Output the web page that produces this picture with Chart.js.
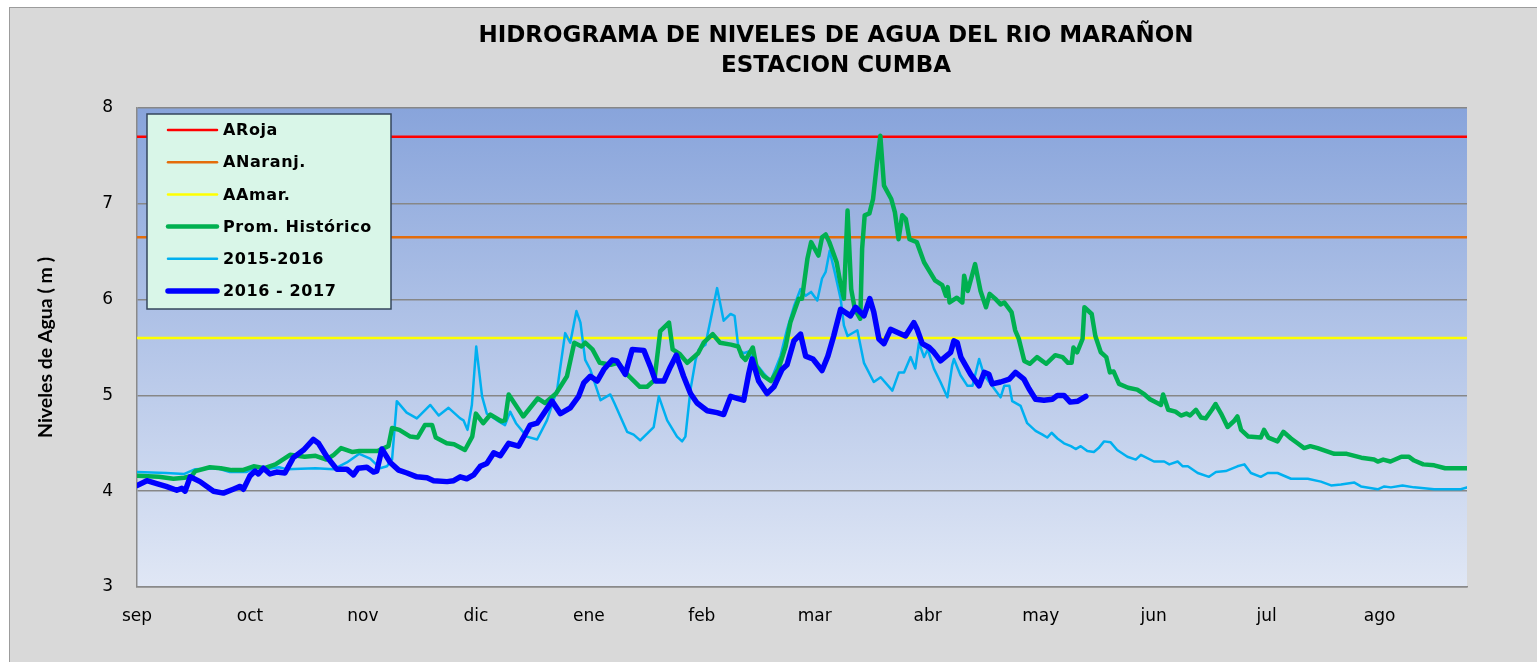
<!DOCTYPE html>
<html lang="es">
<head>
<meta charset="utf-8">
<title>Hidrograma Rio Marañon - Estacion Cumba</title>
<script src="https://cdn.jsdelivr.net/npm/chart.js@4.4.1/dist/chart.umd.min.js"></script>
<style>
  html, body { margin: 0; padding: 0; background: #ffffff; }
  canvas { display: block; }
</style>
</head>
<body>
<canvas id="hidroChart" width="1537" height="662"></canvas>
<script>
// eje x en dias desde el 1 de setiembre, etiqueta cada 31 dias (como el eje de fechas de Excel)
const meses = ['sep', 'oct', 'nov', 'dic', 'ene', 'feb', 'mar', 'abr', 'may', 'jun', 'jul', 'ago'];
const pasoDias = 31;
const diaMin = 0;
const diaMax = 365;
const nivelMin = 3;
const nivelMax = 8;

// umbrales de alerta (m)
const alertaRoja = 7.7;
const alertaNaranja = 6.65;
const alertaAmarilla = 5.6;

// Prom. Historico
const promDias = [0, 6, 10, 13, 15, 16, 20, 23, 26, 29, 32, 35, 38, 42, 46, 49, 52, 54, 56, 59,
  61, 66, 69, 70, 72, 75, 77, 79, 81, 82, 85, 87, 90, 92, 93, 95, 97, 100, 101, 102,
  106, 110, 112, 115, 118, 120, 122, 123, 125, 127, 130, 132, 135, 138, 140, 142, 143.6, 146, 147, 149,
  151, 154, 155.5, 158, 160, 163, 165, 166, 167, 169, 170, 172, 174, 176, 178, 179.3, 181.6, 182.5, 184, 185,
  187, 188, 189, 190, 192, 193, 194, 195, 196, 197, 198.5, 199, 199.7, 201, 202, 203, 204, 205, 207, 208,
  209, 210, 211, 212, 214, 216, 219, 221, 222, 222.5, 223, 225, 226.5, 227, 228, 230, 231.5, 233, 234, 235.5,
  237, 238, 240, 241, 242, 243.5, 245, 247, 249.5, 252, 254, 255.5, 256.5, 257, 258, 259.5, 260, 262, 263, 264.5,
  266, 267, 268, 269.5, 272, 274.5, 276.5, 278, 280, 281, 281.6, 283, 285, 286.5, 288, 289, 290.6, 292, 293.3, 295,
  296, 297.5, 299.3, 301, 302, 303, 305, 308.4, 309.3, 310.5, 313, 314.6, 316.7, 318.5, 320.3, 322, 324, 328.6, 332, 336,
  339.5, 340.5, 342, 344, 347, 349, 350.5, 353, 356, 359, 365];
const promNivel = [4.16, 4.15, 4.13, 4.14, 4.16, 4.21, 4.25, 4.24, 4.22, 4.22, 4.26, 4.24, 4.28, 4.38, 4.36, 4.37, 4.33, 4.38, 4.45, 4.41,
  4.42, 4.42, 4.47, 4.66, 4.64, 4.57, 4.56, 4.69, 4.69, 4.56, 4.50, 4.49, 4.43, 4.57, 4.81, 4.71, 4.80, 4.73, 4.74, 5.01,
  4.78, 4.97, 4.92, 5.02, 5.20, 5.55, 5.51, 5.55, 5.48, 5.34, 5.32, 5.34, 5.20, 5.09, 5.09, 5.16, 5.67, 5.76, 5.48, 5.43,
  5.34, 5.44, 5.55, 5.64, 5.55, 5.53, 5.51, 5.41, 5.37, 5.50, 5.30, 5.20, 5.15, 5.27, 5.51, 5.76, 6.01, 6.01, 6.43, 6.60,
  6.46, 6.65, 6.68, 6.60, 6.39, 6.18, 6.01, 6.93, 6.11, 5.90, 5.80, 6.53, 6.88, 6.90, 7.05, 7.40, 7.71, 7.19, 7.05, 6.91,
  6.63, 6.88, 6.84, 6.63, 6.60, 6.39, 6.20, 6.15, 6.04, 6.13, 5.97, 6.02, 5.97, 6.25, 6.09, 6.37, 6.09, 5.92, 6.06, 6.01,
  5.95, 5.97, 5.87, 5.68, 5.59, 5.36, 5.33, 5.40, 5.33, 5.42, 5.40, 5.34, 5.34, 5.50, 5.45, 5.59, 5.92, 5.85, 5.62, 5.45,
  5.40, 5.24, 5.25, 5.12, 5.08, 5.06, 5.01, 4.96, 4.92, 4.90, 5.01, 4.85, 4.83, 4.79, 4.81, 4.79, 4.85, 4.77, 4.76, 4.85,
  4.91, 4.81, 4.67, 4.73, 4.78, 4.64, 4.57, 4.56, 4.64, 4.56, 4.52, 4.62, 4.55, 4.50, 4.45, 4.47, 4.45, 4.39, 4.39, 4.35,
  4.33, 4.31, 4.33, 4.31, 4.36, 4.36, 4.32, 4.28, 4.27, 4.24, 4.24];

// 2015-2016
const anio1516Dias = [0, 8, 13, 16, 22, 25.5, 30, 33, 35, 39, 41, 49, 54, 57.6, 61, 64, 66.7, 68.6, 70, 71.3,
  74, 76.8, 80.5, 82.8, 85.5, 88.7, 89.6, 90.7, 91.9, 93.1, 94.7, 96, 98.8, 101, 102.4, 104, 107, 109.8, 112.5, 115.3,
  117.5, 118.9, 120.6, 121.7, 123, 124.4, 127.2, 129.9, 131, 133.1, 134.5, 136.3, 138.1, 140, 141.8, 143.2, 145.5, 148.2, 149.6, 150.5,
  151.9, 153.3, 154.2, 156, 157.8, 159.2, 161, 162.9, 164, 165.1, 166.5, 167.9, 169.3, 172, 173.9, 176.6, 178.4, 180.3, 182.1, 183.5,
  185, 186.7, 188, 189, 190.1, 191.7, 193.1, 194, 195, 197.7, 199.5, 202.2, 204.1, 207.3, 209.1, 210.5, 212.3, 213.6, 214.6, 216,
  217, 218.7, 220.5, 222.4, 223.7, 224.2, 226, 227.9, 229.3, 231.1, 232.5, 234.3, 237, 238, 239.4, 240.2, 242.5, 244.3, 246.6, 248.5,
  249.8, 251, 252.6, 254.4, 256.3, 257.6, 259, 260.8, 262.6, 263.9, 265.4, 267.2, 269, 271.8, 274.1, 275.5, 279.1, 281.9, 283.3, 285.6,
  287, 288.4, 291.1, 294.2, 296.1, 298.8, 302, 303.9, 305.7, 308.4, 310.3, 313, 316.7, 319.5, 321.3, 324.9, 327.7, 330.4, 334.1, 335.9,
  340.5, 342.3, 344.1, 347.3, 350.5, 356, 363.3, 365];
const anio1516Nivel = [4.20, 4.19, 4.18, 4.23, 4.24, 4.20, 4.20, 4.26, 4.23, 4.25, 4.23, 4.24, 4.23, 4.30, 4.39, 4.34, 4.24, 4.26, 4.33, 4.94,
  4.82, 4.76, 4.90, 4.79, 4.87, 4.76, 4.74, 4.64, 4.90, 5.51, 4.99, 4.81, 4.74, 4.69, 4.83, 4.71, 4.57, 4.54, 4.74, 5.06,
  5.65, 5.55, 5.88, 5.76, 5.37, 5.27, 4.95, 5.01, 4.92, 4.74, 4.62, 4.59, 4.53, 4.60, 4.67, 4.99, 4.74, 4.57, 4.52, 4.57,
  5.06, 5.37, 5.48, 5.53, 5.86, 6.12, 5.78, 5.85, 5.83, 5.48, 5.44, 5.46, 5.36, 5.23, 5.15, 5.41, 5.69, 5.93, 6.11, 6.04,
  6.08, 5.99, 6.22, 6.29, 6.51, 6.25, 6.01, 5.73, 5.62, 5.68, 5.34, 5.14, 5.19, 5.05, 5.24, 5.24, 5.40, 5.28, 5.55, 5.40,
  5.48, 5.28, 5.14, 4.98, 5.31, 5.38, 5.21, 5.10, 5.10, 5.38, 5.21, 5.12, 4.98, 5.10, 5.10, 4.94, 4.89, 4.71, 4.63, 4.59,
  4.56, 4.61, 4.55, 4.50, 4.47, 4.44, 4.47, 4.42, 4.41, 4.45, 4.52, 4.51, 4.43, 4.36, 4.33, 4.38, 4.31, 4.31, 4.28, 4.31,
  4.26, 4.26, 4.19, 4.15, 4.20, 4.21, 4.26, 4.28, 4.19, 4.15, 4.19, 4.19, 4.13, 4.13, 4.13, 4.10, 4.06, 4.07, 4.09, 4.05,
  4.02, 4.05, 4.04, 4.06, 4.04, 4.02, 4.02, 4.04];

// 2016 - 2017 (hasta mediados de mayo)
const anio1617Dias = [0, 2.7, 5.4, 8, 10.9, 12.3, 13.2, 14.6, 17.3, 21, 23.7, 26.4, 28.3, 29.2, 31, 32.4, 33.3, 34.7, 36.5, 38.3,
  40.6, 42.9, 45.7, 48.4, 49.8, 52.1, 54.8, 57.6, 59.4, 60.7, 63.1, 64.9, 65.8, 67.2, 69.5, 71.8, 74.1, 76.8, 79.6, 81.4,
  85.1, 86.9, 88.7, 90.5, 92.4, 94.2, 96, 97.9, 99.7, 102, 104.7, 106.6, 107.9, 109.8, 111.6, 113.9, 116.2, 118.9, 121.2, 122.6,
  124.4, 126.3, 128.1, 130.4, 131.7, 134, 135.9, 139.1, 140.9, 142.3, 144.6, 146.4, 148, 150, 151.9, 153.7, 156.5, 159.2, 161, 162.9,
  164.7, 166.5, 167.9, 168.8, 170.6, 172.9, 174.8, 177, 178.4, 180.3, 182.1, 183.5, 185.5, 188, 189.6, 191.2, 193.1, 195.8, 197.2, 199.5,
  201.1, 202.2, 203.6, 205, 206.8, 208.6, 210.9, 213.2, 214.1, 215.5, 217.4, 218.7, 220.5, 223.3, 224.2, 225.1, 226.1, 228.8, 231.1, 232.5,
  233.8, 234.7, 237, 239.4, 241.1, 243.4, 244.8, 246.6, 248.9, 251.2, 252.6, 254.4, 256.1, 258.2, 260.4];
const anio1617Nivel = [4.06, 4.11, 4.08, 4.05, 4.01, 4.03, 4.00, 4.15, 4.10, 4.00, 3.98, 4.02, 4.05, 4.02, 4.16, 4.21, 4.18, 4.24, 4.18, 4.20,
  4.19, 4.35, 4.43, 4.54, 4.50, 4.36, 4.23, 4.23, 4.17, 4.24, 4.25, 4.20, 4.21, 4.44, 4.30, 4.22, 4.19, 4.15, 4.14, 4.11,
  4.10, 4.11, 4.15, 4.13, 4.17, 4.26, 4.29, 4.40, 4.37, 4.50, 4.47, 4.60, 4.69, 4.71, 4.81, 4.94, 4.81, 4.87, 4.99, 5.13,
  5.20, 5.15, 5.27, 5.37, 5.36, 5.22, 5.48, 5.47, 5.30, 5.15, 5.15, 5.30, 5.42, 5.20, 5.02, 4.92, 4.84, 4.82, 4.80, 4.99,
  4.97, 4.95, 5.23, 5.38, 5.15, 5.02, 5.09, 5.27, 5.32, 5.57, 5.64, 5.41, 5.38, 5.26, 5.41, 5.62, 5.90, 5.83, 5.92, 5.83,
  6.01, 5.87, 5.59, 5.54, 5.69, 5.66, 5.62, 5.76, 5.69, 5.54, 5.50, 5.45, 5.36, 5.45, 5.57, 5.55, 5.40, 5.22, 5.10, 5.24,
  5.22, 5.12, 5.14, 5.17, 5.24, 5.17, 5.07, 4.96, 4.95, 4.96, 5.00, 5.00, 4.93, 4.94, 4.99];

const toPoints = (dias, niveles) => dias.map((d, i) => ({ x: d, y: niveles[i] }));
const linea = (nivel) => [{ x: diaMin, y: nivel }, { x: diaMax, y: nivel }];

const fondoPlugin = {
  id: 'fondo',
  beforeDraw(chart) {
    const { ctx, chartArea: a, width, height } = chart;
    ctx.save();
    ctx.fillStyle = '#ffffff';
    ctx.fillRect(0, 0, width, height);
    ctx.fillStyle = '#d9d9d9';
    ctx.fillRect(9, 7, width - 9, height - 7);
    ctx.strokeStyle = '#9c9c9c';
    ctx.lineWidth = 1;
    ctx.strokeRect(9.5, 7.5, width, height);
    const grad = ctx.createLinearGradient(0, a.top, 0, a.bottom);
    grad.addColorStop(0, '#88a4db');
    grad.addColorStop(1, '#e0e7f5');
    ctx.fillStyle = grad;
    ctx.fillRect(a.left, a.top, a.right - a.left, a.bottom - a.top);
    ctx.restore();
  }
};

const tituloPlugin = {
  id: 'titulo',
  afterDraw(chart) {
    const { ctx } = chart;
    ctx.save();
    ctx.fillStyle = '#000000';
    ctx.font = 'bold 23px "DejaVu Sans"';
    ctx.textAlign = 'center';
    ctx.textBaseline = 'middle';
    ctx.fillText('HIDROGRAMA DE NIVELES DE AGUA DEL RIO MARAÑON', 836, 36);
    ctx.fillText('ESTACION CUMBA', 836, 66);
    ctx.restore();
  }
};

const leyendaPlugin = {
  id: 'leyenda',
  afterDraw(chart) {
    const { ctx } = chart;
    const box = { x: 147, y: 114, w: 244, h: 195 };
    ctx.save();
    ctx.fillStyle = '#d9f6e8';
    ctx.fillRect(box.x, box.y, box.w, box.h);
    ctx.strokeStyle = '#34465c';
    ctx.lineWidth = 1.5;
    ctx.strokeRect(box.x, box.y, box.w, box.h);
    ctx.font = 'bold 16px "DejaVu Sans"';
    ctx.letterSpacing = '0.6px';
    ctx.textBaseline = 'middle';
    chart.data.datasets.forEach((ds, i) => {
      const y = 130 + i * 32.2;
      ctx.strokeStyle = ds.borderColor;
      ctx.lineWidth = ds.borderWidth;
      ctx.lineCap = 'round';
      ctx.beginPath();
      ctx.moveTo(168, y);
      ctx.lineTo(217, y);
      ctx.stroke();
      ctx.fillStyle = '#000000';
      ctx.fillText(ds.label, 223, y + 1);
    });
    ctx.restore();
  }
};

const ctx = document.getElementById('hidroChart').getContext('2d');
const hidroChart = new Chart(ctx, {
  type: 'line',
  data: {
    datasets: [
      { label: 'ARoja', data: linea(alertaRoja), borderColor: '#ff0000', borderWidth: 2.5, order: 5 },
      { label: 'ANaranj.', data: linea(alertaNaranja), borderColor: '#e46c0a', borderWidth: 2.5, order: 5 },
      { label: 'AAmar.', data: linea(alertaAmarilla), borderColor: '#ffff00', borderWidth: 2.5, order: 5 },
      { label: 'Prom. Histórico', data: toPoints(promDias, promNivel), borderColor: '#00b050', borderWidth: 4.5, order: 2 },
      { label: '2015-2016', data: toPoints(anio1516Dias, anio1516Nivel), borderColor: '#00b0f0', borderWidth: 2.5, order: 3 },
      { label: '2016 - 2017', data: toPoints(anio1617Dias, anio1617Nivel), borderColor: '#0000ff', borderWidth: 5.5, order: 1 }
    ]
  },
  options: {
    responsive: false,
    animation: false,
    devicePixelRatio: 1,
    layout: { padding: { left: 34, right: 70, top: 108, bottom: 0 } },
    elements: {
      point: { radius: 0 },
      line: { tension: 0, fill: false, borderJoinStyle: 'round', borderCapStyle: 'round' }
    },
    scales: {
      x: {
        type: 'linear',
        min: diaMin,
        max: diaMax,
        afterFit: (scale) => { scale.height = 75; },
        grid: { display: false, drawTicks: false },
        border: { display: true, color: '#8a8a8a', width: 1.5 },
        ticks: {
          stepSize: pasoDias,
          includeBounds: false,
          autoSkip: false,
          maxRotation: 0,
          padding: 19,
          color: '#000000',
          font: { family: '"DejaVu Sans"', size: 17 },
          callback: (v) => (v % pasoDias === 0 ? meses[v / pasoDias] : '')
        }
      },
      y: {
        min: nivelMin,
        max: nivelMax,
        afterFit: (scale) => { scale.width = 103; },
        grid: { color: '#878787', lineWidth: 1.5, drawTicks: false },
        border: { display: true, color: '#8a8a8a', width: 1.5 },
        ticks: {
          stepSize: 1,
          padding: 24,
          color: '#000000',
          font: { family: '"DejaVu Sans"', size: 17 }
        },
        title: {
          display: true,
          text: 'Niveles de Agua ( m )',
          color: '#000000',
          padding: { top: 0, bottom: 0 },
          font: { family: 'Lato', size: 19.5, weight: 'bold' }
        }
      }
    },
    plugins: {
      legend: { display: false },
      title: { display: false },
      tooltip: { enabled: false }
    }
  },
  plugins: [fondoPlugin, tituloPlugin, leyendaPlugin]
});
</script>
</body>
</html>
